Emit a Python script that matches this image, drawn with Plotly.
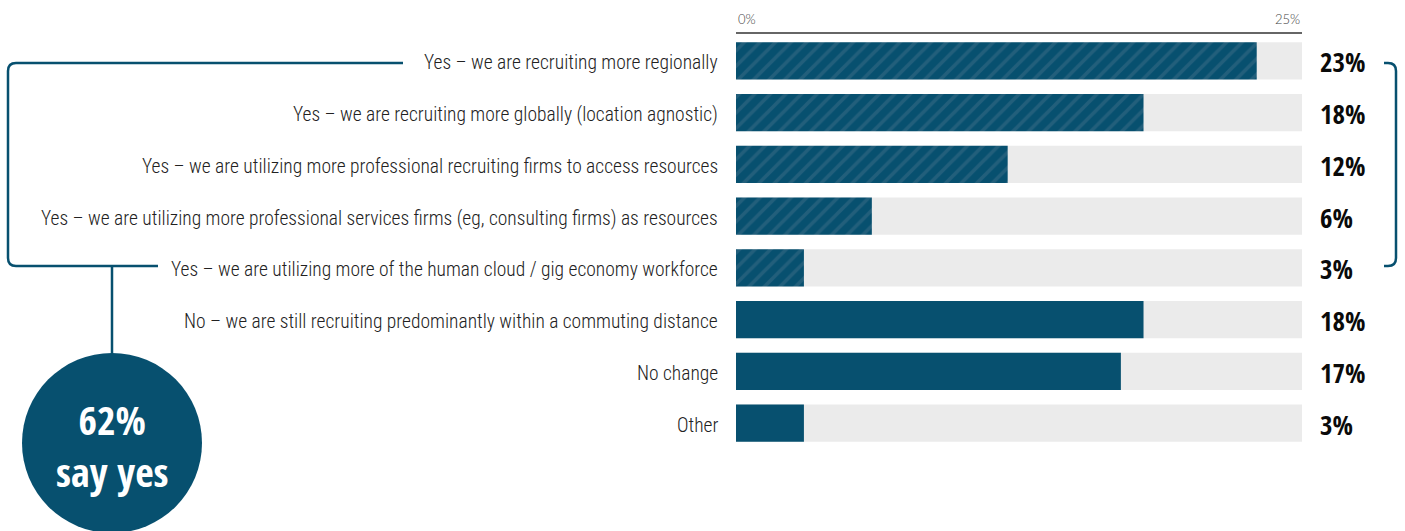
import plotly.graph_objects as go

# Survey responses (share of respondents, %)
categories = [
    "Yes – we are recruiting more regionally",
    "Yes – we are recruiting more globally (location agnostic)",
    "Yes – we are utilizing more professional recruiting firms to access resources",
    "Yes – we are utilizing more professional services firms (eg, consulting firms) as resources",
    "Yes – we are utilizing more of the human cloud / gig economy workforce",
    "No – we are still recruiting predominantly within a commuting distance",
    "No change",
    "Other",
]
values = [23, 18, 12, 6, 3, 18, 17, 3]
is_yes = [True, True, True, True, True, False, False, False]
axis_max = 25
axis_tick_labels = ["0%", "25%"]
yes_total = sum(v for v, y in zip(values, is_yes) if y)

NAVY = "#07506f"
STRIPE = "#3e6d88"
TRACK = "#ebebeb"
LABEL_FONT = "Roboto Condensed, sans-serif"
HEAVY_FONT = "Open Sans Condensed, Roboto Condensed, sans-serif"

W, H = 1405, 531
L, R, T, B = 736, 103, 35, 82
PW, PH = W - L - R, H - T - B
n = len(categories)


def px(x):
    return (x - L) / PW


def py(y):
    return (H - B - y) / PH


def row_y(i):
    # pixel centre of row i (top row = 0)
    return T + (i + 0.5) * PH / n


fig = go.Figure()

# grey tracks up to the axis maximum
fig.add_trace(go.Bar(
    y=categories, x=[axis_max] * n, orientation="h",
    marker=dict(color=TRACK, line=dict(width=0)),
    width=0.72, hoverinfo="skip", showlegend=False,
))

yes_cats = [c for c, y in zip(categories, is_yes) if y]
yes_vals = [v for v, y in zip(values, is_yes) if y]
no_cats = [c for c, y in zip(categories, is_yes) if not y]
no_vals = [v for v, y in zip(values, is_yes) if not y]

# hatched bars for the "yes" answers
fig.add_trace(go.Bar(
    y=yes_cats, x=yes_vals, orientation="h",
    marker=dict(color=NAVY, line=dict(width=0),
                pattern=dict(shape="/", fgcolor=STRIPE, bgcolor=NAVY,
                             size=11, solidity=0.32)),
    width=0.72, showlegend=False,
))

# solid bars for the rest
fig.add_trace(go.Bar(
    y=no_cats, x=no_vals, orientation="h",
    marker=dict(color=NAVY, line=dict(width=0)),
    width=0.72, showlegend=False,
))

annotations = []
for i, (c, v) in enumerate(zip(categories, values)):
    annotations.append(dict(
        x=0, xref="paper", y=c, yref="y", xanchor="right", yanchor="middle",
        xshift=-16, yshift=-2, text=c, showarrow=False,
        font=dict(family=LABEL_FONT, size=19.5, color="#222222", weight=300),
    ))
    annotations.append(dict(
        x=axis_max, xref="x", y=c, yref="y", xanchor="left", yanchor="middle",
        xshift=16, yshift=-1, text=f"<b>{v}%</b>", showarrow=False,
        font=dict(family=HEAVY_FONT, size=27, color="#0a0a0a"),
    ))

# axis end labels above the top rule
for xv, anchor, txt in [(0, "left", axis_tick_labels[0]),
                        (axis_max, "right", axis_tick_labels[1])]:
    annotations.append(dict(x=xv, xref="x", y=1, yref="paper", xanchor=anchor,
                            yanchor="bottom", yshift=6, text=txt, showarrow=False,
                            font=dict(family="Lato", size=13, color="#444444", weight=300)))

# bracket geometry (pixels)
top_y = row_y(0) + 2
bot_y = row_y(4) - 2
r = 8
lx, stem_x = 8, 112
circ_cx, circ_r, circ_top = 112, 90, 353


def path(points):
    return " ".join(points)


left_path = path([
    f"M {px(403)},{py(top_y)}",
    f"L {px(lx + r)},{py(top_y)}",
    f"Q {px(lx)},{py(top_y)} {px(lx)},{py(top_y + r)}",
    f"L {px(lx)},{py(bot_y - r)}",
    f"Q {px(lx)},{py(bot_y)} {px(lx + r)},{py(bot_y)}",
    f"L {px(158)},{py(bot_y)}",
])
rx = 1396
right_path = path([
    f"M {px(1384)},{py(top_y)}",
    f"L {px(rx - r)},{py(top_y)}",
    f"Q {px(rx)},{py(top_y)} {px(rx)},{py(top_y + r)}",
    f"L {px(rx)},{py(bot_y - r)}",
    f"Q {px(rx)},{py(bot_y)} {px(rx - r)},{py(bot_y)}",
    f"L {px(1384)},{py(bot_y)}",
])

shapes = [
    dict(type="path", xref="paper", yref="paper", path=left_path,
         line=dict(color=NAVY, width=2.5)),
    dict(type="path", xref="paper", yref="paper", path=right_path,
         line=dict(color=NAVY, width=2.5)),
    dict(type="line", xref="paper", yref="paper",
         x0=px(stem_x), x1=px(stem_x), y0=py(bot_y), y1=py(circ_top + 2),
         line=dict(color=NAVY, width=2.5)),
    dict(type="circle", xref="paper", yref="paper",
         x0=px(circ_cx - circ_r), x1=px(circ_cx + circ_r),
         y0=py(circ_top + 2 * circ_r), y1=py(circ_top),
         fillcolor=NAVY, line=dict(width=0)),
    # top rule of the axis
    dict(type="line", xref="x", yref="paper", x0=0, x1=axis_max,
         y0=py(33), y1=py(33), line=dict(color="#666666", width=2)),
]

# total "yes" callout inside the circle
annotations.append(dict(
    x=px(circ_cx), xref="paper", y=py(445), yref="paper",
    text=f"<b>{yes_total}%</b><br><b>say yes</b>", showarrow=False,
    xanchor="center", yanchor="middle", align="center",
    font=dict(family=HEAVY_FONT, size=40, color="white"),
))

fig.update_layout(
    width=W, height=H,
    margin=dict(l=L, r=R, t=T, b=B, autoexpand=False),
    paper_bgcolor="white", plot_bgcolor="white",
    barmode="overlay", bargap=0.28,
    xaxis=dict(range=[0, axis_max], visible=False, fixedrange=True),
    yaxis=dict(categoryorder="array", categoryarray=categories,
               autorange="reversed", showticklabels=False, showgrid=False,
               zeroline=False, showline=False, fixedrange=True),
    shapes=shapes,
    annotations=annotations,
)

fig.write_html("out.html")
